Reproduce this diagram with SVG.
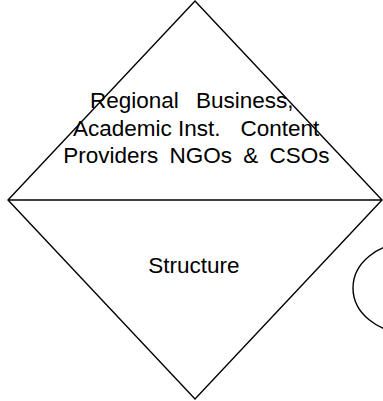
<svg xmlns="http://www.w3.org/2000/svg" width="383" height="401" viewBox="0 0 383 401">
<style>
.shape{fill:none;stroke:#000;stroke-width:1.4}
.lbl{font-family:"Liberation Sans",Arial,sans-serif;font-size:22.5px;fill:#000}
</style>
<rect width="383" height="401" fill="#fff"/>
<g id="diamond">
<polygon class="shape" points="195,1 382,200 195,399 8,200"/>
<line class="shape" x1="8" y1="200" x2="382" y2="200"/>
</g>
<g id="node-top">
<text class="lbl" x="90" y="108" word-spacing="11">Regional Business,</text>
<text class="lbl" y="136"><tspan x="73">Academic Inst.</tspan><tspan x="240.5">Content</tspan></text>
<text class="lbl" x="63.3" y="163" word-spacing="5">Providers NGOs &amp; CSOs</text>
</g>
<g id="node-bottom">
<text class="lbl" x="194" y="273" text-anchor="middle">Structure</text>
</g>
<g id="node-ellipse">
<ellipse class="shape" cx="408" cy="288" rx="55" ry="45"/>
</g>
<g id="connectors"></g>
</svg>
